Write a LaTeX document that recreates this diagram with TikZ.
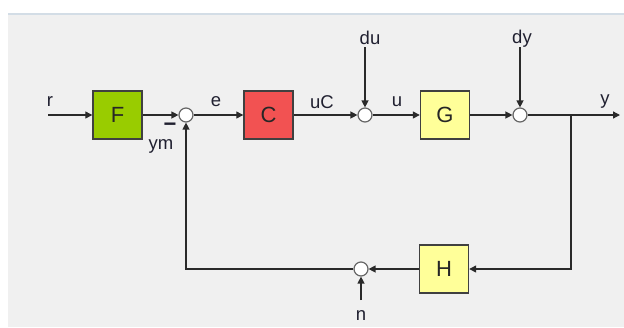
\documentclass[tikz,border=0pt]{standalone}
\usepackage{fontspec}
\setmainfont{Liberation Sans}
\usetikzlibrary{arrows.meta}
\definecolor{bgray}{HTML}{F0F0F0}
\definecolor{topl}{HTML}{D3DDE6}
\definecolor{fgreen}{HTML}{99CC00}
\definecolor{cred}{HTML}{F25252}
\definecolor{gyel}{HTML}{FFFF99}
\definecolor{edge}{HTML}{404040}
\definecolor{wire}{HTML}{2A2A2A}
\definecolor{lbl}{HTML}{202030}
\tikzset{
  blk/.style={draw=edge, line width=1.4pt, minimum width=49pt, minimum height=48pt, inner sep=0pt, font=\fontsize{22}{22}\selectfont, text=black!85},
  sumc/.style={circle, draw=edge!80, fill=white, line width=1.2pt, minimum size=14pt, inner sep=0pt},
  wirel/.style={draw=wire, line width=1.3pt},
  arr/.style={wirel, -{Triangle[length=7pt,width=7pt]}},
  lab/.style={font=\fontsize{18.5}{18.5}\selectfont, text=lbl, inner sep=0pt}
}
\begin{document}
\begin{tikzpicture}[x=1pt,y=-1pt]
\useasboundingbox (0,0) rectangle (624,327);
\fill[white] (0,0) rectangle (624,327);
\fill[bgray] (8,14) rectangle (624,327);
\draw[topl, line width=1.2pt] (8,14) -- (624,14);

\node[blk, fill=fgreen] (F) at (117.5,115) {F};
\node[blk, fill=cred] (C) at (268.5,115) {C};
\node[blk, fill=gyel] (G) at (445,115) {G};
\node[blk, fill=gyel] (H) at (444,269) {H};
\node[sumc] (s1) at (186,115) {};
\node[sumc] (s2) at (365,115) {};
\node[sumc] (s3) at (520,115) {};
\node[sumc] (s4) at (361,269) {};

\coordinate (rin) at (48,115);
\coordinate (yout) at (620,115);
\coordinate (br) at (571,115);
\coordinate (brd) at (571,269);
\coordinate (fbl) at (186,269);
\coordinate (dutop) at (365,47);
\coordinate (dytop) at (520,47);
\coordinate (nbot) at (361,300);

\draw[arr] (rin) -- (F.west);
\draw[arr] (F.east) -- (s1.west);
\draw[arr] (s1.east) -- (C.west);
\draw[arr] (C.east) -- (s2.west);
\draw[arr] (s2.east) -- (G.west);
\draw[arr] (G.east) -- (s3.west);
\draw[arr] (s3.east) -- (yout);
\draw[arr] (br) -- (brd) -- (H.east);
\draw[arr] (H.west) -- (s4.east);
\draw[arr] (s4.west) -- (fbl) -- (s1.south);
\draw[arr] (dutop) -- (s2.north);
\draw[arr] (dytop) -- (s3.north);
\draw[arr] (nbot) -- (s4.south);

\node[lab] (lr) at (50,102) {r};
\node[lab] (le) at (216,102) {e};
\node[lab] (luC) at (322,102) {uC};
\node[lab] (lu) at (397,102) {u};
\node[lab] (ldu) at (370,38) {du};
\node[lab] (ldy) at (522,39) {dy};
\node[lab] (ly) at (605,102) {y};
\node[lab] (ln) at (361,316) {n};
\node[lab] (lym) at (161,146) {ym};
\node[lab, font=\fontsize{22}{22}\bfseries] (lminus) at (170,127) {−};
\end{tikzpicture}
\end{document}
